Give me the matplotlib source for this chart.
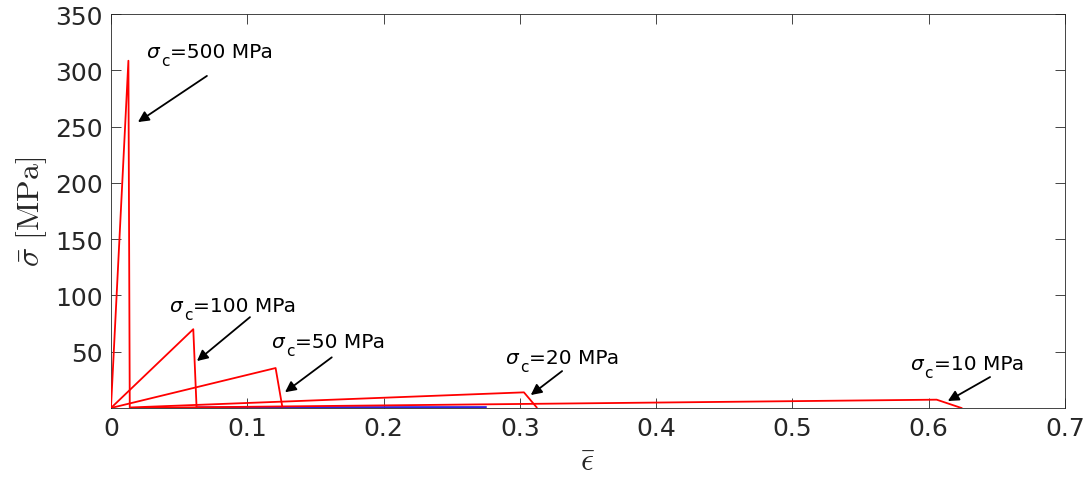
import matplotlib
matplotlib.use("Agg")
import matplotlib.pyplot as plt

# ---- data ----
labels = ["500", "100", "50", "20", "10"]
# each curve: x-points and y-points (start -> peak -> drop)
curve_x = {
    "500": [0.0, 0.0128, 0.0138],
    "100": [0.0, 0.0604, 0.0628],
    "50":  [0.0, 0.1208, 0.1257],
    "20":  [0.0148, 0.3030, 0.3123],
    "10":  [0.0150, 0.6058, 0.6240],
}
curve_y = {
    "500": [0.0, 308.5, 0.3],
    "100": [0.0, 70.0, 1.0],
    "50":  [0.0, 35.5, 1.2],
    "20":  [0.5, 13.9, 0.6],
    "10":  [0.0, 7.4, 0.0],
}
blue_x = [0.063, 0.275]
blue_y = [0.6, 0.8]

# annotation: text anchor (left, baseline), arrow tail, arrow head
text_pos = {"500": (0.0264, 312), "100": (0.0433, 86.3), "50": (0.118, 53.8),
            "20": (0.2896, 40.0), "10": (0.5867, 35.0)}
arrow_tail = {"500": (0.0704, 295), "100": (0.102, 80.7), "50": (0.162, 45.0),
              "20": (0.331, 32.8), "10": (0.645, 27.5)}
arrow_head = {"500": (0.0198, 254), "100": (0.0631, 41.7), "50": (0.1277, 14.0),
              "20": (0.308, 11.5), "10": (0.614, 6.2)}

xticks = [0, 0.1, 0.2, 0.3, 0.4, 0.5, 0.6, 0.7]
xticklabels = ["0", "0.1", "0.2", "0.3", "0.4", "0.5", "0.6", "0.7"]
yticks = [50, 100, 150, 200, 250, 300, 350]

fig = plt.figure(figsize=(10.91, 4.81), dpi=100)
ax = fig.add_axes([0.1017, 0.1497, 0.9762 - 0.1017, 0.9688 - 0.1497])

ax.plot(blue_x, blue_y, color="#3020e0", lw=1.4, zorder=2)
for k in labels:
    ax.plot(curve_x[k], curve_y[k], color="red", lw=1.3, zorder=3)

for k in labels:
    ax.annotate("", xy=arrow_head[k], xytext=arrow_tail[k],
                arrowprops=dict(arrowstyle="-|>", color="black", lw=1.3,
                                mutation_scale=16, shrinkA=0, shrinkB=0),
                zorder=4)
    tx, ty = text_pos[k]
    ax.annotate(r"$\sigma$", xy=(tx, ty), xytext=(-1, 0),
                textcoords="offset pixels", fontsize=14.5, ha="left",
                va="baseline", math_fontfamily="dejavusans", zorder=5)
    ax.annotate("c", xy=(tx, ty), xytext=(14, -8),
                textcoords="offset pixels", fontsize=11, ha="left",
                va="baseline", zorder=5)
    ax.annotate("=" + k + " MPa", xy=(tx, ty), xytext=(23, 0),
                textcoords="offset pixels", fontsize=14.5, ha="left",
                va="baseline", zorder=5)

ax.set_xlim(0, 0.7)
ax.set_ylim(0, 350)
ax.set_xticks(xticks)
ax.set_xticklabels(xticklabels)
ax.set_yticks(yticks)

ax.tick_params(direction="in", length=7, width=0.6, colors="#262626",
               labelsize=18, top=True, right=True, pad=6)
for s in ax.spines.values():
    s.set_color("#262626")
    s.set_linewidth(0.6)

ax.set_xlabel(r"$\bar{\epsilon}$", fontsize=23, math_fontfamily="cm",
              color="#262626", labelpad=4)
ax.set_ylabel(r"$\bar{\sigma}\ [\mathrm{MPa}]$", fontsize=23,
              math_fontfamily="cm", color="#262626", labelpad=4)

fig.savefig("out.png", dpi=100)
